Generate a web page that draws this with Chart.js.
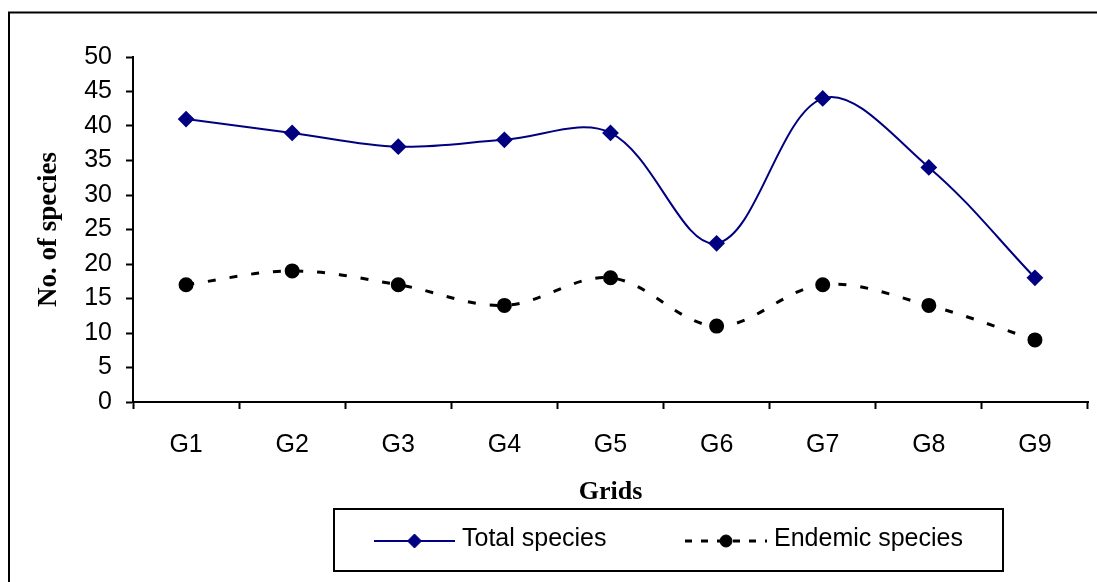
<!DOCTYPE html>
<html>
<head>
<meta charset="utf-8">
<script src="https://cdn.jsdelivr.net/npm/chart.js@4"></script>
<style>
  html, body { margin: 0; padding: 0; background: #fff; }
  #wrap { width: 1097px; height: 582px; position: relative; }
</style>
</head>
<body>
<div id="wrap"><canvas id="species-chart"></canvas></div>
<script>
// Data
const grids = ['G1', 'G2', 'G3', 'G4', 'G5', 'G6', 'G7', 'G8', 'G9'];
const totalSpecies = [41, 39, 37, 38, 39, 23, 44, 34, 18];
const endemicSpecies = [17, 19, 17, 14, 18, 11, 17, 14, 9];
const seriesNames = ['Total species', 'Endemic species'];

const sansFont = 'Arial, "Liberation Sans", sans-serif';
const serifFont = '"Times New Roman", "Liberation Serif", serif';

// frame, white background and the boxed legend under the axis
const framePlugin = {
  id: 'frameAndLegend',
  beforeDraw(chart) {
    const ctx = chart.ctx;
    ctx.save();
    ctx.fillStyle = '#fff';
    ctx.fillRect(0, 0, chart.width, chart.height);
    ctx.strokeStyle = '#000';
    ctx.lineWidth = 2;
    ctx.beginPath();
    ctx.moveTo(9, chart.height);
    ctx.lineTo(9, 12.5);
    ctx.lineTo(chart.width, 12.5);
    ctx.stroke();
    ctx.restore();
  },
  afterDraw(chart) {
    const ctx = chart.ctx;
    const ds = chart.data.datasets;
    ctx.save();
    ctx.strokeStyle = '#000';
    ctx.lineWidth = 2;
    ctx.strokeRect(334, 509, 669, 62);

    const items = [
      { ds: ds[0], x0: 374, x1: 455, tx: 462 },
      { ds: ds[1], x0: 685, x1: 767, tx: 774 }
    ];
    const ly = 541;
    items.forEach(it => {
      ctx.save();
      ctx.strokeStyle = it.ds.borderColor;
      ctx.lineWidth = it.ds.borderWidth;
      ctx.setLineDash(it.ds.borderDash ? [7, 9] : []);
      ctx.beginPath();
      ctx.moveTo(it.x0, ly);
      ctx.lineTo(it.x1, ly);
      ctx.stroke();
      ctx.restore();
      ctx.fillStyle = it.ds.pointBackgroundColor;
      ctx.strokeStyle = it.ds.pointBorderColor;
      ctx.lineWidth = 1;
      Chart.helpers.drawPoint(ctx, {
        pointStyle: it.ds.pointStyle,
        radius: it.ds.pointRadius,
        rotation: 0,
        borderWidth: 1
      }, (it.x0 + it.x1) / 2, ly);
      ctx.fillStyle = '#000';
      ctx.font = '25px ' + sansFont;
      ctx.textBaseline = 'middle';
      ctx.textAlign = 'left';
      ctx.fillText(it.ds.label, it.tx, ly - 2);
    });
    ctx.restore();
  }
};

const data = {
  labels: grids,
  datasets: [{
    label: seriesNames[0],
    data: totalSpecies,
    borderColor: '#000080',
    borderWidth: 2,
    tension: 0.35,
    pointStyle: 'rectRot',
    pointRadius: 7,
    pointBackgroundColor: '#000080',
    pointBorderColor: '#000080'
  }, {
    label: seriesNames[1],
    data: endemicSpecies,
    borderColor: '#000',
    borderWidth: 3,
    borderDash: [8, 14],
    tension: 0.35,
    pointStyle: 'circle',
    pointRadius: 6,
    pointBackgroundColor: '#000',
    pointBorderColor: '#000'
  }]
};

const config = {
  type: 'line',
  data: data,
  options: {
    responsive: true,
    maintainAspectRatio: false,
    animation: false,
    layout: {
      padding: { left: 10, right: 5, top: 57, bottom: 0 }
    },
    plugins: {
      legend: { display: false },
      tooltip: { enabled: false }
    },
    scales: {
      x: {
        offset: true,
        grid: {
          offset: true,
          drawOnChartArea: false,
          drawTicks: true,
          tickLength: 7,
          tickColor: '#000',
          tickWidth: 2
        },
        border: { color: '#000', width: 2 },
        ticks: {
          color: '#000',
          padding: 21,
          font: { family: sansFont, size: 25 }
        },
        title: {
          display: true,
          text: 'Grids',
          color: '#000',
          font: { family: serifFont, size: 26, weight: 'bold' },
          padding: { top: 0, bottom: 74 }
        },
        afterFit(scale) { scale.height = 180; }
      },
      y: {
        min: 0,
        max: 50,
        grid: {
          drawOnChartArea: false,
          drawTicks: true,
          tickLength: 7,
          tickColor: '#000',
          tickWidth: 2
        },
        border: { color: '#000', width: 2 },
        ticks: {
          stepSize: 5,
          color: '#000',
          padding: 14,
          font: { family: sansFont, size: 25 }
        },
        title: {
          display: true,
          text: 'No. of species',
          color: '#000',
          font: { family: serifFont, size: 27, weight: 'bold' },
          padding: { top: 23, bottom: 0 }
        },
        afterFit(scale) { scale.width = 123; }
      }
    }
  },
  plugins: [framePlugin]
};

const speciesChart = new Chart(document.getElementById('species-chart'), config);
</script>
</body>
</html>
